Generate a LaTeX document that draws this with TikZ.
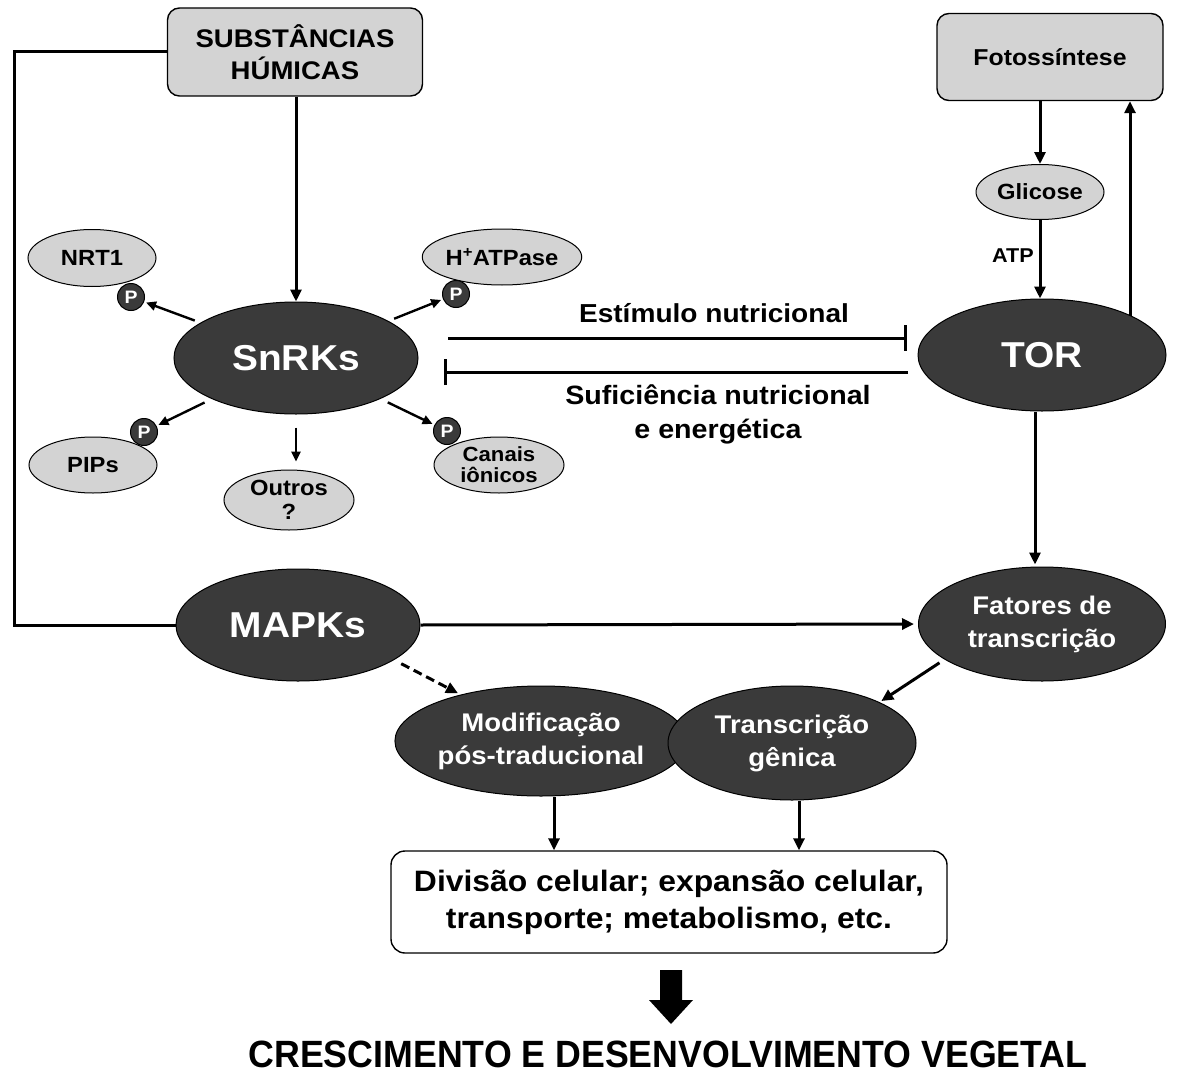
\documentclass[tikz,border=0pt]{standalone}
\usepackage{fontspec}
\setmainfont{Liberation Sans}[FakeStretch=1.08]
\newfontfamily\titlefont{Liberation Sans}[FakeStretch=0.94]
\usetikzlibrary{shapes.geometric,arrows.meta}
\definecolor{darkfill}{HTML}{3A3A3A}
\definecolor{lightfill}{HTML}{D3D3D3}
\newcommand\fsz[2]{\fontsize{#1}{#2}\selectfont}
\begin{document}
\begin{tikzpicture}[x=1pt,y=-1pt,
  ln/.style={line width=3pt},
  arr/.style={ln,-{Triangle[length=12pt,width=11pt]}},
  sarr/.style={line width=2.4pt,-{Triangle[length=10pt,width=9pt]}},
  darkell/.style={ellipse,draw=black,line width=1pt,fill=darkfill,text=white,inner sep=0pt,align=center},
  lightell/.style={ellipse,draw=black,line width=1pt,fill=lightfill,inner sep=0pt,align=center},
  pcirc/.style={circle,draw=black,line width=1pt,fill=darkfill,minimum size=27pt,inner sep=0pt,text=white,font=\bfseries\fsz{18}{18}},
  gbox/.style={rectangle,rounded corners=12pt,draw=black,line width=1.4pt,fill=lightfill,align=center},
  tbar/.style={ln,-{Bar[width=26pt,line width=3pt]}}
]
\useasboundingbox (0,0) rectangle (1192,1073);

% top boxes
\node[gbox,minimum width=255pt,minimum height=88pt,font=\bfseries\fsz{25.5}{32}] (sh) at (295,52) {SUBSTÂNCIAS\\HÚMICAS};
\node[gbox,minimum width=226pt,minimum height=87pt,font=\bfseries\fsz{23}{26}] (foto) at (1050,57) {Fotossíntese};

% main ellipses
\node[darkell,minimum width=244pt,minimum height=112pt,font=\bfseries\fsz{36}{40}] (snrk) at (296,358) {SnRKs};
\node[darkell,minimum width=248pt,minimum height=112pt,font=\bfseries\fsz{36}{40}] (tor) at (1042,355) {TOR};
\node[darkell,minimum width=244pt,minimum height=112pt,font=\bfseries\fsz{36}{40}] (mapk) at (298,625) {MAPKs};
\node[darkell,minimum width=247pt,minimum height=114pt,font=\bfseries\fsz{25.5}{33}] (fat) at (1042,624) {Fatores de\\transcrição};
\node[darkell,minimum width=234pt,minimum height=110pt,font=\bfseries\fsz{25.5}{33}] (mod) at (541,741) {Modificação\\pós-traducional};
\node[darkell,minimum width=248pt,minimum height=114pt,font=\bfseries\fsz{25.5}{33}] (trans) at (792,743) {Transcrição\\gênica};

% small ellipses
\node[lightell,minimum width=128pt,minimum height=57pt,font=\bfseries\fsz{22}{24}] (nrt) at (92,258) {NRT1};
\node[lightell,minimum width=130pt,minimum height=56pt,font=\bfseries\fsz{22}{24}] (hatp) at (502,257) {H\textsuperscript{+}ATPase};
\node[lightell,minimum width=128pt,minimum height=56pt,font=\bfseries\fsz{22}{24}] (pips) at (93,465) {PIPs};
\node[lightell,minimum width=130pt,minimum height=60pt,font=\bfseries\fsz{22}{24}] (outros) at (289,500) {Outros\\?};
\node[lightell,minimum width=130pt,minimum height=56pt,font=\bfseries\fsz{20.5}{21}] (canais) at (499,465) {Canais\\iônicos};
\node[lightell,minimum width=128pt,minimum height=55pt,font=\bfseries\fsz{22}{24}] (glic) at (1040,192) {Glicose};

% P circles
\node[pcirc] (p1) at (131,297) {P};
\node[pcirc] (p2) at (456,294) {P};
\node[pcirc] (p3) at (144,432) {P};
\node[pcirc] (p4) at (447,431) {P};

% result box
\node[rectangle,rounded corners=14pt,draw=black,line width=1.4pt,fill=white,minimum width=556pt,minimum height=102pt,align=center,font=\bfseries\fsz{29.5}{37}] (res) at (669,902) {Divisão celular; expansão celular,\\transporte; metabolismo, etc.};

% labels
\node[font=\bfseries\fsz{26}{34}] (estim) at (714,313) {Estímulo nutricional};
\node[font=\bfseries\fsz{26.5}{34},align=center] (suf) at (718,414) {Suficiência nutricional\\e energética};
\node[font=\bfseries\fsz{20}{22}] (atp) at (1013,256) {ATP};
\node[font=\titlefont\bfseries\fsz{38}{42},inner sep=0pt] (title) at (668,1054) {CRESCIMENTO E DESENVOLVIMENTO VEGETAL};

% connectors
\draw[ln] (sh.west) -| (14,625) -- (mapk.west);
\draw[arr] (sh.south -| snrk.north) -- (snrk.north);
\draw[sarr,shorten <=6pt,shorten >=2pt] (snrk) -- (p1);
\draw[sarr,shorten <=6pt,shorten >=2pt] (snrk) -- (p2);
\draw[sarr,shorten <=8pt,shorten >=2pt] (snrk) -- (p3);
\draw[sarr,shorten <=8pt,shorten >=2pt] (snrk) -- (p4);
\draw[sarr,shorten <=13pt,shorten >=8pt] (snrk.south) -- (snrk.south |- outros.north);

\coordinate (e1) at (448,338);
\coordinate (e2) at (907,338);
\coordinate (s1) at (908,372);
\coordinate (s2) at (444,372);
\draw[tbar] (e1) -- (e2);
\draw[tbar] (s1) -- (s2);

\draw[arr] (foto.south -| glic.north) -- (glic.north);
\draw[arr] (glic.south) -- (glic.south |- tor.north);
\coordinate (torup) at (1130,316);
\draw[arr] (torup) -- (torup |- foto.south);
\draw[arr,shorten >=2pt] ([xshift=-7pt]tor.south) -- ([xshift=-7pt]fat.north);
\draw[arr,shorten >=4pt] (mapk.east) -- (fat.west);
\draw[arr,dashed,dash pattern=on 9pt off 5pt,shorten <=8pt,shorten >=3pt] (mapk.-20) -- (mod.150);
\draw[arr,shorten <=6pt,shorten >=2pt] (fat.-160) -- (trans.25);
\draw[arr] ([xshift=13pt]mod.south) -- ([xshift=13pt]mod.south |- res.north);
\draw[arr] ([xshift=7pt]trans.south) -- ([xshift=7pt]trans.south |- res.north);

% big block arrow
\fill[black] (660,970) -- (682,970) -- (682,1000) -- (693,1000) -- (671,1024) -- (649,1000) -- (660,1000) -- cycle;
\end{tikzpicture}
\end{document}
